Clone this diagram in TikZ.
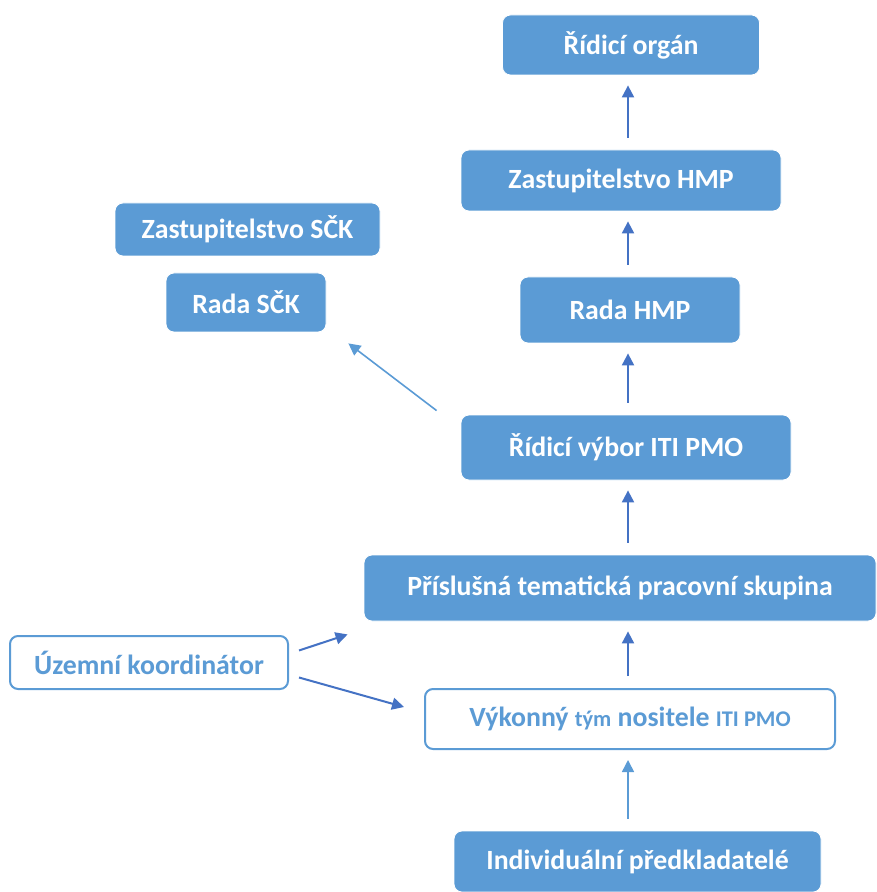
\documentclass[tikz,border=0pt]{standalone}
\usepackage{fontspec}
\setmainfont{Carlito}
\usetikzlibrary{arrows.meta,calc}
\definecolor{boxblue}{HTML}{5B9BD5}
\definecolor{arrblue}{HTML}{4472C4}
\newcommand{\smalltxt}[1]{{\fontsize{11.2}{13}\selectfont #1}}

\begin{document}
\begin{tikzpicture}[x=0.5pt,y=-0.5pt,>={Triangle[length=6pt,width=6pt]},
  font=\bfseries\fontsize{13.9}{16}\selectfont,
  box/.style={fill=boxblue,draw=white,rounded corners=4pt,text=white,inner sep=0pt},
  hollow/.style={draw=boxblue,line width=1pt,fill=white,rounded corners=4pt,text=boxblue,inner sep=0pt},
  up/.style={->,arrblue,line width=1pt,shorten <=6pt,shorten >=5pt},
  lightarr/.style={->,boxblue,line width=0.8pt}]
\useasboundingbox (0,0) rectangle (876,892);
\coordinate (spine) at (628,0);
% boxes
\node[box,minimum width=128.5pt,minimum height=30pt] (ro) at (631,45) {Řídicí orgán};
\node[box,minimum width=160pt,minimum height=30.5pt] (zh) at (621,180.5) {Zastupitelstvo HMP};
\node[box,minimum width=132.5pt,minimum height=26.5pt] (zs) at (247.5,229.5) {Zastupitelstvo SČK};
\node[box,minimum width=80pt,minimum height=29.5pt] (rs) at (246,302.5) {Rada SČK};
\node[box,minimum width=110pt,minimum height=33pt] (rh) at (630,310) {Rada HMP};
\node[box,minimum width=165pt,minimum height=32.5pt] (rv) at (626,447.5) {Řídicí výbor ITI PMO};
\node[box,minimum width=256pt,minimum height=33pt] (sk) at (620,588) {Příslušná tematická pracovní skupina};
\node[hollow,minimum width=139pt,minimum height=26.5pt] (uk) at (149,662.5) {Územní koordinátor};
\node[hollow,minimum width=205pt,minimum height=30pt] (vt) at (630,719) {Výkonný \smalltxt{tým} nositele \smalltxt{ITI PMO}};
\node[box,minimum width=183.5pt,minimum height=30.5pt] (ip) at (637.5,861.5) {Individuální předkladatelé};
% arrows up the chain
\draw[up] (zh.north -| spine) -- (ro.south -| spine);
\draw[up] (rh.north -| spine) -- (zh.south -| spine);
\draw[up] (rv.north -| spine) -- (rh.south -| spine);
\draw[up] (sk.north -| spine) -- (rv.south -| spine);
\draw[up] (vt.north -| spine) -- (sk.south -| spine);
\draw[up,boxblue,line width=0.8pt] (ip.north -| spine) -- (vt.south -| spine);
% side arrows
\draw[lightarr] ($(rv.north west)+(-24,-4)$) -- ($(rs.south east)+(22,11)$);
\draw[up,shorten <=0pt,shorten >=0pt] ($(uk.east)+(10,-12)$) -- ($(sk.south west)+(-16,13)$);
\draw[up,shorten <=0pt,shorten >=0pt] ($(uk.east)+(10,15)$) -- ($(vt.west)+(-20,-12)$);
\end{tikzpicture}
\end{document}
